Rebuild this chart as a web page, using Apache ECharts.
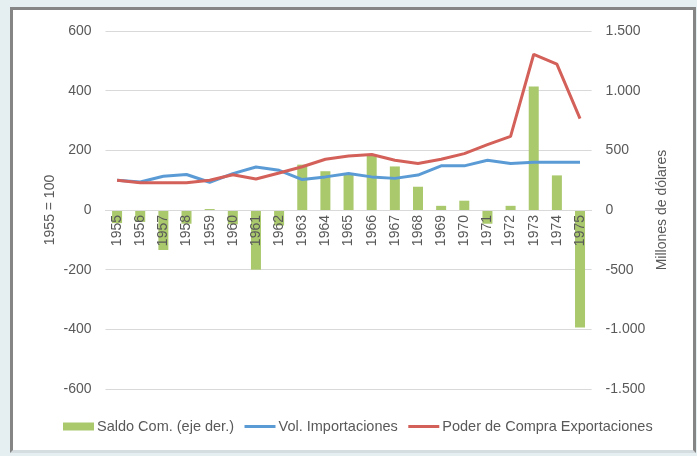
<!DOCTYPE html>
<html>
<head>
<meta charset="utf-8">
<script src="https://cdn.jsdelivr.net/npm/echarts@6/dist/echarts.min.js"></script>
<style>
  html, body { margin: 0; padding: 0; background: #e5eef1; }
  #frame {
    position: absolute; left: 10px; top: 7px; width: 686px; height: 446px;
    box-sizing: border-box; background: #fff;
    border: 3px solid #858585; border-bottom: 3px solid #d6dde0;
  }
  #container { position: absolute; left: 0; top: 0; width: 697px; height: 456px; }
</style>
</head>
<body>
<div id="frame"></div>
<div id="container"></div>
<script>
// años
var years = ['1955', '1956', '1957', '1958', '1959', '1960', '1961', '1962', '1963', '1964', '1965',
    '1966', '1967', '1968', '1969', '1970', '1971', '1972', '1973', '1974', '1975'];
// saldo comercial, millones de dólares (eje derecho)
var saldo = [-110, -100, -335, -115, 8, -120, -500, -130, 380, 325, 295, 455, 365, 195, 35, 78,
    -115, 35, 1035, 290, -985];
// índices 1955 = 100 (eje izquierdo)
var volImport = [100, 94, 113, 119, 93, 122, 144, 133, 102, 111, 122, 111, 106, 117, 148, 148,
    167, 156, 160, 160, 160];
var poderCompra = [100, 91, 91, 91, 100, 118, 104, 124, 145, 170, 181, 186, 167, 156, 170, 189,
    219, 247, 522, 489, 306];

var myChart = echarts.init(document.getElementById('container'));

var txt = '#595959';
var font = 'Liberation Sans, Arial, sans-serif';

// formato con punto de miles
function miles(v) {
    var s = Math.abs(v).toString().replace(/\B(?=(\d{3})+(?!\d))/g, '.');
    return (v < 0 ? '-' : '') + s;
}

var gridTop = 31, gridBottom = 67;
var plotH = 456 - gridTop - gridBottom;

var option = {
    animation: false,
    textStyle: {fontFamily: font},
    grid: {left: 105.5, right: 105.4, top: gridTop, bottom: gridBottom},
    legend: {
        left: 58,
        top: 414,
        itemGap: 9,
        itemWidth: 31,
        itemHeight: 8,
        textStyle: {color: txt, fontSize: 14.5, fontFamily: font, padding: [0, 0, 0, -2]},
        lineStyle: {width: 3},
        data: [
            {name: 'Saldo Com. (eje der.)', icon: 'rect'},
            {name: 'Vol. Importaciones', itemStyle: {opacity: 0}},
            {name: 'Poder de Compra Exportaciones', itemStyle: {opacity: 0}}
        ]
    },
    xAxis: {
        type: 'category',
        data: years,
        z: 10,
        position: 'bottom',
        offset: -plotH / 2,   // eje en el cero
        axisLine: {show: true, onZero: false, lineStyle: {color: '#d9d9d9'}},
        axisTick: {show: false},
        axisLabel: {rotate: 90, color: txt, fontSize: 14, margin: 5}
    },
    yAxis: [
        {
            type: 'value',
            min: -600, max: 600, interval: 200,
            name: '1955 = 100',
            nameLocation: 'middle',
            nameGap: 48,
            nameMoveOverlap: false,
            nameTextStyle: {color: txt, fontSize: 14},
            axisLine: {show: false},
            axisTick: {show: false},
            axisLabel: {color: txt, fontSize: 14, margin: 14},
            splitLine: {lineStyle: {color: '#d9d9d9', width: 1}}
        },
        {
            type: 'value',
            min: -1500, max: 1500, interval: 500,
            name: 'Millones de dólares',
            nameLocation: 'middle',
            nameGap: 64,
            nameMoveOverlap: false,
            nameTextStyle: {color: txt, fontSize: 14},
            axisLine: {show: false},
            axisTick: {show: false},
            axisLabel: {color: txt, fontSize: 14, margin: 14, formatter: miles},
            splitLine: {show: false}
        }
    ],
    series: [
        {
            name: 'Saldo Com. (eje der.)',
            type: 'bar',
            yAxisIndex: 1,
            barWidth: 10,
            itemStyle: {color: '#a9c96c'},
            data: saldo
        },
        {
            name: 'Vol. Importaciones',
            type: 'line',
            symbol: 'none',
            lineStyle: {color: '#5b9bd5', width: 3},
            itemStyle: {color: '#5b9bd5'},
            data: volImport
        },
        {
            name: 'Poder de Compra Exportaciones',
            type: 'line',
            symbol: 'none',
            lineStyle: {color: '#d4605a', width: 3},
            itemStyle: {color: '#d4605a'},
            data: poderCompra
        }
    ]
};
myChart.setOption(option, true);

window.onresize = function () {
    myChart.resize();
};
</script>
</body>
</html>
